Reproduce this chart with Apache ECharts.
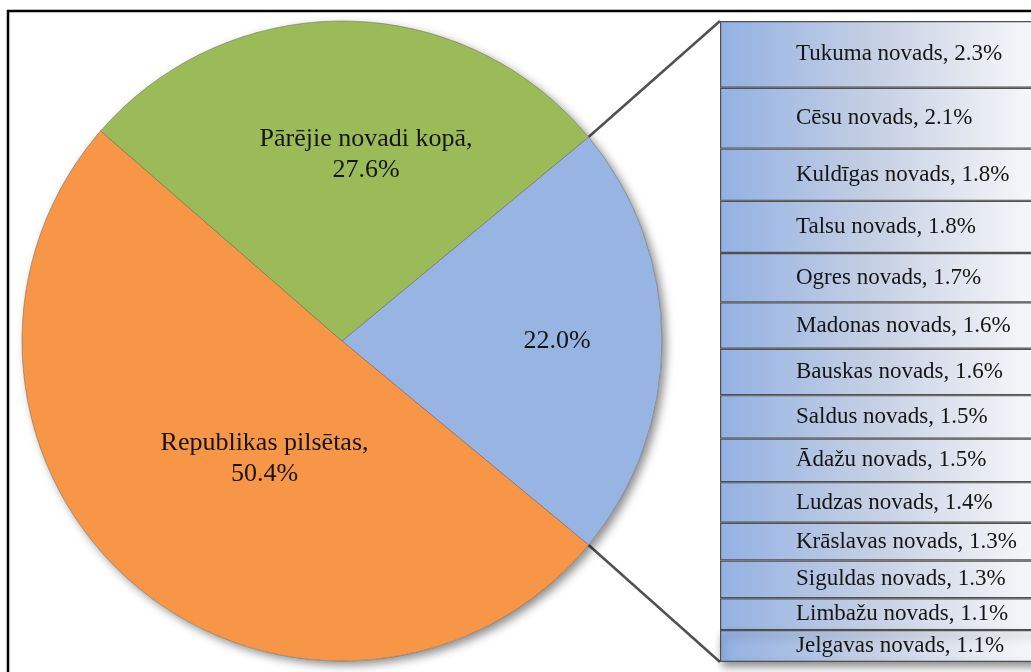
<!DOCTYPE html>
<html>
<head>
<meta charset="utf-8">
<script src="https://cdn.jsdelivr.net/npm/echarts@6/dist/echarts.min.js"></script>
<style>
  html, body { margin: 0; padding: 0; background: #fff; }
  #chart { width: 1031px; height: 672px; }
</style>
</head>
<body>
<div id="chart"></div>
<script>
// pie: the blue slice is the sum of the bar on the right
var pieNames = ['', 'Republikas pilsētas', 'Pārējie novadi kopā'];
var pieValues = [22.0, 50.4, 27.6];
var pieColors = ['#97b4e2', '#f79646', '#9bbb59'];

var barNames = ['Tukuma novads', 'Cēsu novads', 'Kuldīgas novads', 'Talsu novads', 'Ogres novads',
  'Madonas novads', 'Bauskas novads', 'Saldus novads', 'Ādažu novads', 'Ludzas novads',
  'Krāslavas novads', 'Siguldas novads', 'Limbažu novads', 'Jelgavas novads'];
var barValues = [2.3, 2.1, 1.8, 1.8, 1.7, 1.6, 1.6, 1.5, 1.5, 1.4, 1.3, 1.3, 1.1, 1.1];

var cx = 342, cy = 341, r = 320;
var barLeft = 720, barTop = 21, barWidth = 345, barHeight = 641;
var font = '"Liberation Serif", "Times New Roman", serif';

// label nudges from the default inside spot (Excel placed them by hand)
var labelShift = [[52, 0], [28, -7], [22, -23]];

var barTotal = 0;
for (var i = 0; i < barValues.length; i++) barTotal += barValues[i];

var chart = echarts.init(document.getElementById('chart'));

// connector lines: blue slice edge -> bar corners
var half = pieValues[0] / 100 * Math.PI;
var px = cx + r * Math.cos(half);
var pyTop = cy - r * Math.sin(half);
var pyBot = cy + r * Math.sin(half);

var gradient = new echarts.graphic.LinearGradient(0, 0, 1, 0, [
  { offset: 0, color: '#93b1e3' },
  { offset: 0.45, color: '#c6d0e4' },
  { offset: 0.88, color: '#f4f5f8' },
  { offset: 1, color: '#ffffff' }
]);

var series = [
  {
    // shadow disc behind the pie
    type: 'pie',
    silent: true,
    center: [cx, cy],
    radius: r,
    z: 1,
    label: { show: false },
    labelLine: { show: false },
    itemStyle: {
      color: '#ffffff',
      shadowColor: 'rgba(0,0,0,0.45)',
      shadowBlur: 10,
      shadowOffsetX: 4,
      shadowOffsetY: 4
    },
    data: [1]
  },
  {
    type: 'pie',
    silent: true,
    center: [cx, cy],
    radius: r,
    z: 2,
    startAngle: pieValues[0] / 100 * 180,
    clockwise: true,
    itemStyle: { borderColor: 'rgba(90,80,70,0.55)', borderWidth: 0.8 },
    label: {
      show: true,
      position: 'inside',
      fontFamily: font,
      fontSize: 26,
      lineHeight: 31,
      color: '#151515',
      formatter: function (p) {
        var v = pieValues[p.dataIndex].toFixed(1) + '%';
        return p.name ? p.name + ',\n' + v : v;
      }
    },
    labelLayout: function (p) {
      return { dx: labelShift[p.dataIndex][0], dy: labelShift[p.dataIndex][1] };
    },
    labelLine: { show: false },
    data: pieValues.map(function (v, i) {
      return { name: pieNames[i], value: v, itemStyle: { color: pieColors[i] } };
    })
  }
];

barValues.forEach(function (v, i) {
  var last = i === barValues.length - 1;
  series.push({
    type: 'bar',
    name: barNames[i],
    stack: 'novadi',
    barWidth: '100%',
    silent: true,
    z: 3,
    itemStyle: {
      color: gradient,
      borderColor: '#505050',
      borderWidth: 1.2,
      shadowColor: last ? 'rgba(0,0,0,0.45)' : 'transparent',
      shadowBlur: last ? 8 : 0,
      shadowOffsetY: last ? 5 : 0,
      shadowOffsetX: last ? 2 : 0
    },
    label: {
      show: true,
      position: 'insideLeft',
      distance: 76,
      fontFamily: font,
      fontSize: 23,
      color: '#151515',
      formatter: function () {
        return barNames[i] + ', ' + v.toFixed(1) + '%';
      }
    },
    data: [v]
  });
});

var option = {
  animation: false,
  backgroundColor: '#ffffff',
  grid: {
    left: barLeft, top: barTop, width: barWidth, height: barHeight,
    outerBoundsMode: 'none'
  },
  xAxis: { type: 'category', data: ['novadi'], show: false },
  yAxis: { type: 'value', min: 0, max: barTotal, inverse: true, show: false },
  graphic: [
    {
      type: 'rect',
      z: 0,
      shape: { x: 8, y: 11, width: 1100, height: 720 },
      style: { fill: 'none', stroke: '#000', lineWidth: 2.5 }
    },
    {
      type: 'line',
      z: 0,
      shape: { x1: px, y1: pyTop, x2: barLeft, y2: barTop },
      style: { stroke: '#505050', lineWidth: 2.5 }
    },
    {
      type: 'line',
      z: 0,
      shape: { x1: px, y1: pyBot, x2: barLeft, y2: barTop + barHeight },
      style: { stroke: '#505050', lineWidth: 2.5 }
    }
  ],
  series: series
};

chart.setOption(option);
</script>
</body>
</html>
